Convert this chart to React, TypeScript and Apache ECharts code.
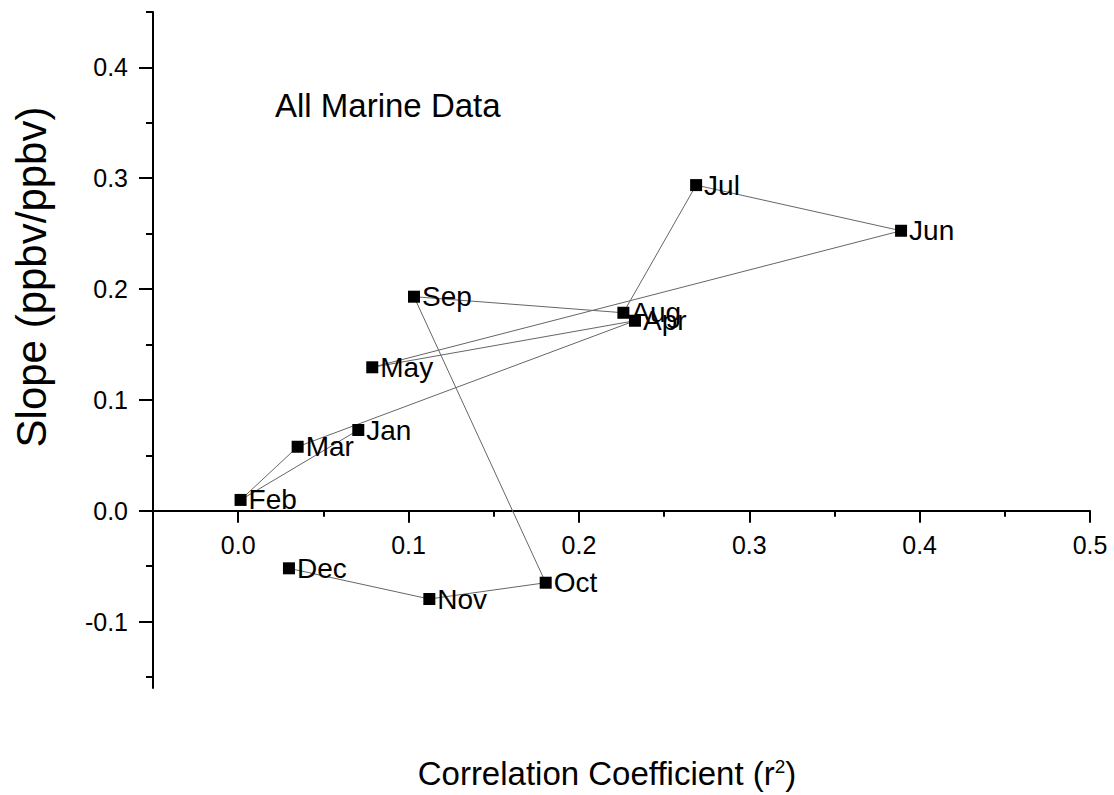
import React, { useEffect, useRef } from "react";
import * as echarts from "echarts";

const months = ["Jan", "Feb", "Mar", "Apr", "May", "Jun", "Jul", "Aug", "Sep", "Oct", "Nov", "Dec"];
const rSquared = [0.0705, 0.0014, 0.0349, 0.2329, 0.0787, 0.3891, 0.2688, 0.2261, 0.1032, 0.1805, 0.1122, 0.0298];
const slopes = [0.0728, 0.0097, 0.0577, 0.1714, 0.1294, 0.2526, 0.2938, 0.1786, 0.1931, -0.065, -0.0797, -0.052];

const xMajorTicks = [0, 0.1, 0.2, 0.3, 0.4, 0.5];
const xMinorTicks = [0.05, 0.15, 0.25, 0.35, 0.45];
const yMajorTicks = [-0.1, 0, 0.1, 0.2, 0.3, 0.4];
const yMinorTicks = [-0.15, -0.05, 0.05, 0.15, 0.25, 0.35, 0.45];

const FONT = "'Liberation Sans', Arial, Helvetica, sans-serif";

export default function App() {
  const ref = useRef<HTMLDivElement>(null);
  useEffect(() => {
    if (!ref.current) return;
    const chart = echarts.init(ref.current, null, { renderer: "svg" });
    const axisLineStyle = { color: "#000", width: 2 };
    const gridTop = 12;
    const gridBottom = 107;
    const yMin = -0.16;
    const yMax = 0.45;
    const gridHeight = 795 - gridTop - gridBottom;
    // place the x axis at y = 0 (offset from the grid's bottom edge)
    const zeroOffset = -(gridHeight * (0 - yMin)) / (yMax - yMin);
    const baseX = {
      type: "value",
      min: -0.05,
      max: 0.5,
      position: "bottom",
      offset: zeroOffset,
      splitLine: { show: false },
    };
    const baseY = {
      type: "value",
      min: yMin,
      max: yMax,
      position: "left",
      splitLine: { show: false },
    };
    chart.setOption({
      animation: false,
      backgroundColor: "#fff",
      grid: { left: 153, right: 24, top: gridTop, bottom: gridBottom },
      xAxis: [
        {
          ...baseX,
          axisLine: { show: true, onZero: false, lineStyle: axisLineStyle },
          axisTick: { show: true, inside: false, length: 12, lineStyle: axisLineStyle, customValues: xMajorTicks },
          axisLabel: {
            show: true,
            margin: 22,
            fontSize: 25,
            color: "#000",
            fontFamily: FONT,
            customValues: xMajorTicks,
            formatter: (v: number) => v.toFixed(1),
          },
        },
        {
          ...baseX,
          axisLine: { show: false, onZero: false },
          axisTick: { show: true, inside: false, length: 6, lineStyle: axisLineStyle, customValues: xMinorTicks },
          axisLabel: { show: false },
        },
      ],
      yAxis: [
        {
          ...baseY,
          axisLine: { show: true, onZero: false, lineStyle: axisLineStyle },
          axisTick: { show: true, inside: false, length: 14, lineStyle: axisLineStyle, customValues: yMajorTicks },
          axisLabel: {
            show: true,
            margin: 25,
            fontSize: 25,
            color: "#000",
            fontFamily: FONT,
            customValues: yMajorTicks,
            formatter: (v: number) => v.toFixed(1),
          },
        },
        {
          ...baseY,
          axisLine: { show: false, onZero: false },
          axisTick: { show: true, inside: false, length: 7, lineStyle: axisLineStyle, customValues: yMinorTicks },
          axisLabel: { show: false },
        },
      ],
      series: [
        {
          type: "line",
          xAxisIndex: 0,
          yAxisIndex: 0,
          data: months.map((m, i) => [rSquared[i], slopes[i]]),
          symbol: "rect",
          symbolSize: 12,
          showSymbol: true,
          showAllSymbol: true,
          itemStyle: { color: "#000" },
          lineStyle: { color: "#666", width: 1 },
          label: {
            show: true,
            position: "right",
            distance: 2,
            fontSize: 28,
            color: "#000",
            fontFamily: FONT,
            formatter: (p: any) => months[p.dataIndex],
          },
          emphasis: { disabled: true },
        },
      ],
      graphic: [
        {
          type: "text",
          left: 275,
          top: 89,
          style: { text: "All Marine Data", fontSize: 33, fill: "#000", fontFamily: FONT },
        },
        {
          type: "text",
          x: 607,
          y: 773,
          style: {
            text: "{a|Correlation Coefficient (r}{s|2}{a|)}",
            align: "center",
            verticalAlign: "middle",
            fill: "#000",
            fontFamily: FONT,
            rich: {
              a: { fontSize: 33, fontFamily: FONT, fill: "#000", verticalAlign: "bottom" },
              s: { fontSize: 19, fontFamily: FONT, fill: "#000", verticalAlign: "top", padding: [0, 0, 12, 0] },
            },
          },
        },
        {
          type: "text",
          x: 31,
          y: 277,
          rotation: Math.PI / 2,
          style: {
            text: "Slope (ppbv/ppbv)",
            fontSize: 42,
            fill: "#000",
            fontFamily: FONT,
            align: "center",
            verticalAlign: "middle",
          },
        },
      ],
    });
    return () => chart.dispose();
  }, []);
  return (
    <div
      ref={ref}
      style={{ position: "fixed", left: 0, top: 0, width: 1114, height: 795, background: "#fff" }}
    />
  );
}
